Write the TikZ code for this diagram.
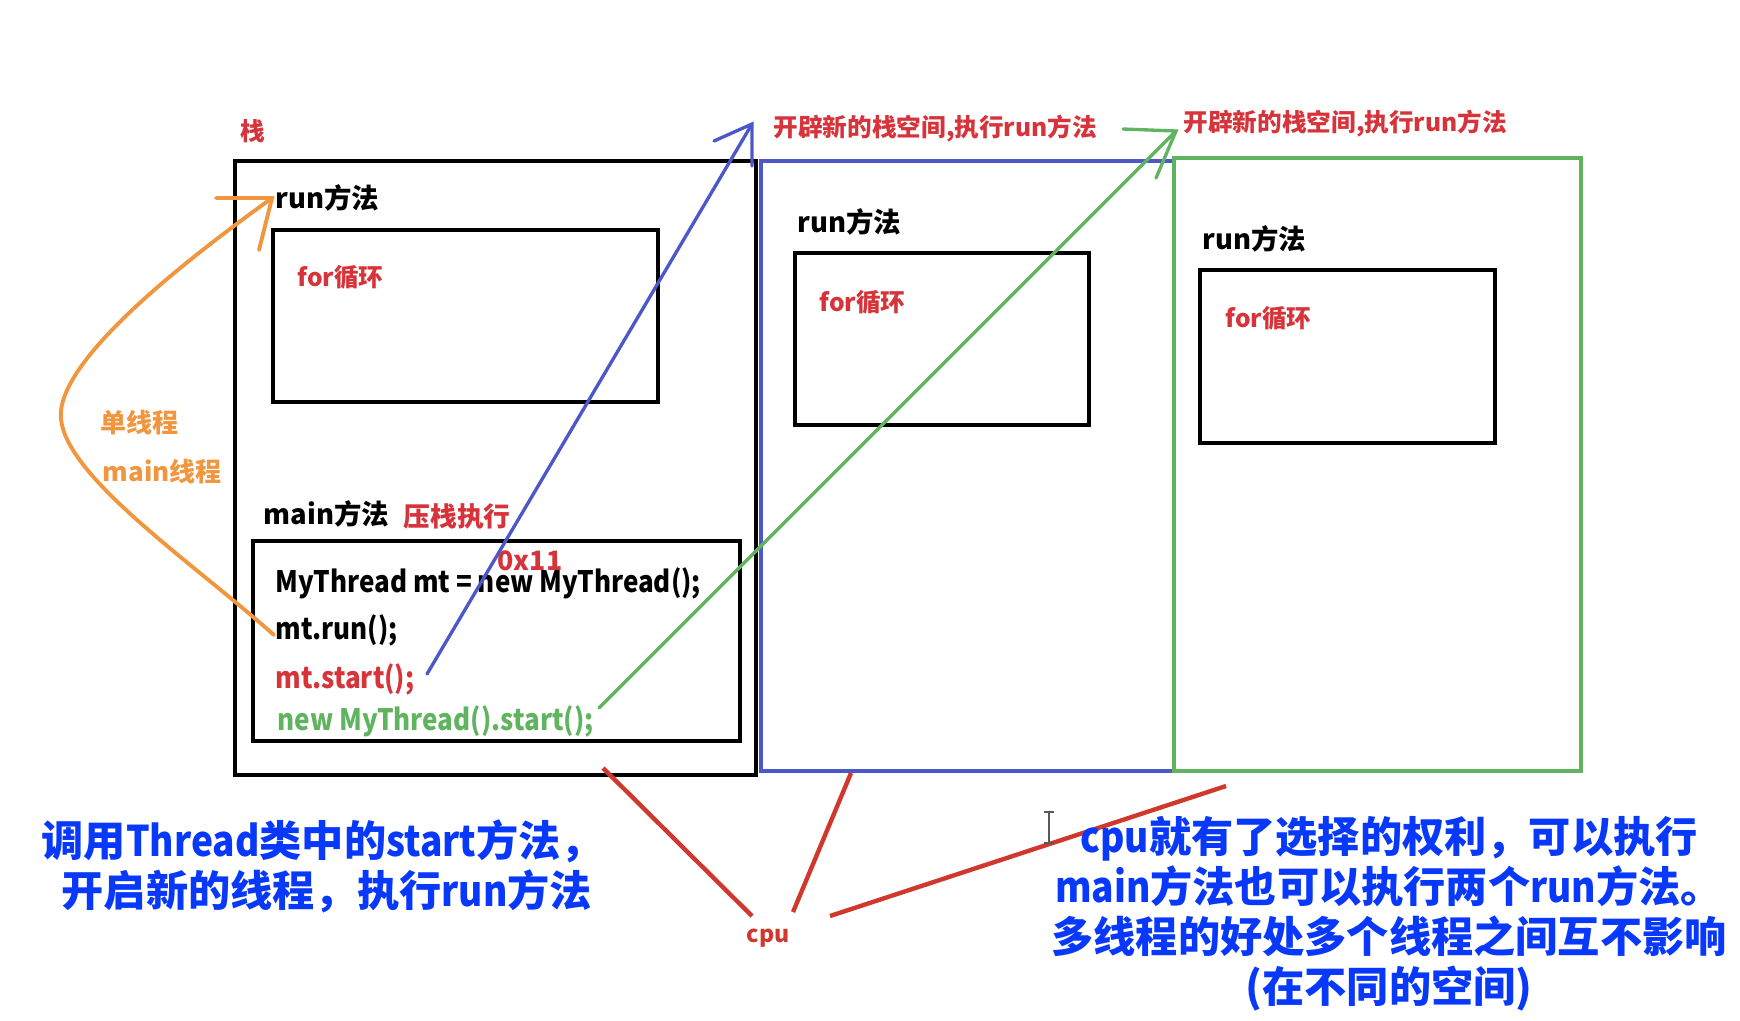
\documentclass[tikz,border=0pt]{standalone}
\usepackage{fontspec}
\setmainfont{Noto Sans CJK SC}
\newfontfamily\narrowfont{Noto Sans CJK SC}[FakeStretch=0.88]
\usetikzlibrary{calc}
\definecolor{lblred}{RGB}{214,52,58}
\definecolor{lnred}{RGB}{208,56,46}
\definecolor{thblue}{RGB}{76,88,200}
\definecolor{thgreen}{RGB}{96,180,96}
\definecolor{thorange}{RGB}{240,150,62}
\definecolor{txtblue}{RGB}{8,56,250}
\newcommand{\lat}[1]{{\narrowfont\bfseries #1}}

\begin{document}
\begin{tikzpicture}[x=0.01cm,y=-0.01cm]
\tikzset{box/.style = {shape=rectangle, draw, inner sep=0pt, line width=1.25pt},
         txt/.style = {anchor=west, inner sep=0pt, font=\fontsize{7.8}{9}\selectfont\bfseries},
         code/.style = {txt, font=\fontsize{8.4}{9}\selectfont\narrowfont\bfseries},
         redlbl/.style = {txt, text=lblred, font=\fontsize{7}{8}\selectfont\bfseries},
         orangelbl/.style = {txt, text=thorange, font=\fontsize{7.4}{8}\selectfont\bfseries},
         bigtxt/.style = {inner sep=0pt, text=txtblue, font=\fontsize{12}{14.2}\selectfont\bfseries},
         arm/.style = {line width=0.95pt, line cap=round},
         cpuline/.style = {draw=lnred, line width=1.25pt}}
\useasboundingbox (0,0) rectangle (1740,1020);

\node[box, minimum width=5.21cm, minimum height=6.14cm] (STACK) at (495.5,468) {};
\node[box, minimum width=3.85cm, minimum height=1.72cm] (RUNA) at (465.5,316) {};
\node[box, minimum width=4.87cm, minimum height=2cm] (MAINBOX) at (496.5,641) {};
\node[box, draw=thblue, minimum width=4.13cm, minimum height=6.1cm] (THREADB) at (967.5,466) {};
\node[box, minimum width=2.94cm, minimum height=1.72cm] (RUNB) at (942,339) {};
\node[box, draw=thgreen, minimum width=4.07cm, minimum height=6.13cm] (THREADC) at (1377.5,464.5) {};
\node[box, minimum width=2.95cm, minimum height=1.73cm] (RUNC) at (1347.5,356.5) {};

\node[redlbl, anchor=center] (STACKLBL) at (253,131) {栈};
\node[txt] (RUNATXT) at (275,198) {run方法};
\node[redlbl] (FORA) at (297,277) {for循环};
\node[txt] (MAINTXT) at (263,514) {main方法};
\node[redlbl, font=\fontsize{7.6}{8}\selectfont\bfseries] (PUSH) at (403,516) {压栈执行};
\node[redlbl, font=\fontsize{7.6}{8}\selectfont\bfseries] (ADDR) at (497,561) {0x11};
\node[code] (NEWMT) at (275,583) {MyThread mt = new MyThread();};
\node[code] (MTRUN) at (275,630) {mt.run();};
\node[code, text=lblred] (MTSTART) at (275,679) {mt.start();};
\node[code, text=thgreen] (NEWSTART) at (277,721) {new MyThread().start();};

\node[txt] (RUNBTXT) at (797,222) {run方法};
\node[redlbl] (FORB) at (819,302) {for循环};
\node[txt] (RUNCTXT) at (1202,239) {run方法};
\node[redlbl] (FORC) at (1225,318) {for循环};
\node[redlbl] (NEWB) at (773,129) {开辟新的栈空间,执行run方法};
\node[redlbl] (NEWC) at (1183,124) {开辟新的栈空间,执行run方法};

\node[orangelbl] (SINGLE) at (100,423) {单线程};
\node[orangelbl] (MAINTH) at (102,472) {main线程};

\coordinate (BS) at (427,674);
\coordinate (BT) at (752,124);
\draw[arm, thblue] (BS) -- (BT);
\draw[arm, thblue] (714,141) -- (BT) -- (752,166);

\coordinate (GS) at (599,708);
\coordinate (GT) at (1176,131);
\draw[arm, thgreen] (GS) -- (GT);
\draw[arm, thgreen] (1123,129) -- (GT) -- (1156,178);

\coordinate (OS) at (274,635);
\coordinate (OT) at (272,198);
\draw[arm, thorange, line width=1.1pt] (OS) .. controls (190,560) and (55,470) .. (61,411)
      .. controls (67,350) and (200,250) .. (OT);
\draw[arm, thorange, line width=1.1pt] (216,198) -- (OT) -- (259,250);

\node[inner sep=0pt, text=lnred, font=\fontsize{6.6}{8}\selectfont\bfseries] (CPU) at (768,938) {cpu};
\coordinate (CA) at (603,768);
\coordinate (CB) at (851,773);
\coordinate (CC) at (1226,786);
\draw[cpuline] (CA) -- (752,916);
\draw[cpuline] (CB) -- (793,912);
\draw[cpuline] (CC) -- (830,916);

\draw[gray!70!black, line width=0.4pt] (1049,812) -- (1049,843) (1044,812) -- (1054,812) (1044,843) -- (1054,843);

\node[bigtxt, anchor=west] (CALL1) at (41,841) {调用\lat{Thread}类中的\lat{start}方法，};
\node[bigtxt, anchor=west] (CALL2) at (61,891) {开启新的线程，执行\lat{run}方法};
\node[bigtxt, align=center] (CHOICE) at (1389,914) {\lat{cpu}就有了选择的权利，可以执行\\\lat{main}方法也可以执行两个\lat{run}方法。\\多线程的好处多个线程之间互不影响\\(在不同的空间)};
\end{tikzpicture}
\end{document}
